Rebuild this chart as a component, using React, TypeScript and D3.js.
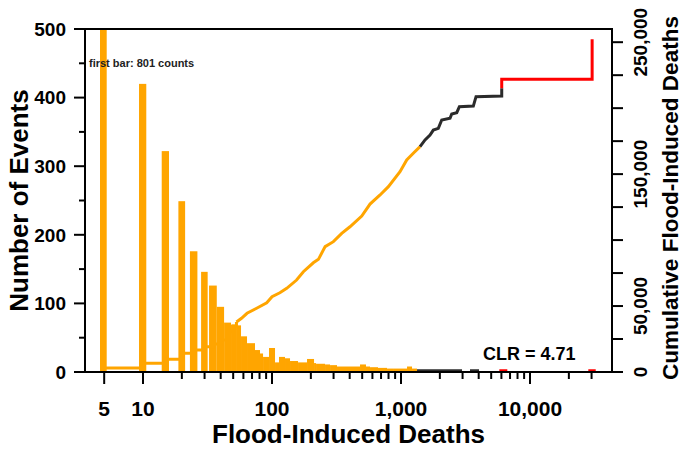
import React from "react";
import * as d3 from "d3";

// ---------- data ----------
// histogram bins (deaths per event) and number of events per bin
const barLo = [4.64, 9.31, 13.96, 18.8, 23.1, 28.2, 32.5, 37.3, 42.5, 48.1, 52.6, 57.5, 64.0, 73.8, 80.7, 85.2, 94.8, 105.5, 113.3, 126.1, 137.9, 159.1, 186.8, 211.7, 219.4, 257.6, 281.7, 319, 481, 535, 575, 663, 779, 867, 1113, 1217, 1331, 3426, 5781, 28300];
const barHi = [5.23, 10.6, 15.9, 21.2, 26.4, 31.7, 37.3, 42.5, 48.1, 52.6, 57.5, 64.0, 73.8, 80.7, 85.2, 94.8, 105.5, 113.3, 126.1, 137.9, 159.1, 186.8, 211.7, 219.4, 257.6, 281.7, 319, 481, 535, 575, 663, 779, 867, 1113, 1217, 1331, 2971, 4024, 6668, 32300];
const barCount = [801, 420, 322, 249, 176, 146, 126, 95, 72, 69, 68, 52, 42, 32, 27, 22, 35, 14, 22, 20, 16, 14, 19, 13, 12, 11, 10, 8, 11, 8, 7, 6, 5, 5, 8, 5, 4, 4, 4, 4];

// colour classes by deaths
const blackFrom = 1331;
const redFrom = 5000;

// cumulative flood-induced deaths (step part for small events)
const cumStepDeaths = [5, 10, 15, 20, 25, 30, 35, 40, 45, 50, 53];
const cumStepTotal = [3000, 6600, 9600, 14200, 16700, 19200, 21200, 24300, 30300, 34900, 37900];
// cumulative – orange part
const cumOrangeDeaths = [53, 58, 64, 76, 91, 100, 115, 130, 155, 175, 209, 229, 258, 299, 347, 402, 496, 575, 688, 798, 982, 1107, 1245, 1404];
const cumOrangeTotal = [37900, 40700, 44500, 48300, 52500, 57100, 60100, 63400, 69700, 76000, 82800, 85400, 95000, 98800, 105100, 110100, 118200, 127300, 134200, 140500, 151800, 160700, 165800, 170800];
// cumulative – black part
const cumBlackDeaths = [1404, 1535, 1678, 1780, 1946, 2068, 2398, 2472, 2704, 2834, 3635, 3815, 6035, 6035];
const cumBlackTotal = [170800, 175900, 179600, 183400, 184700, 191000, 192300, 195600, 196600, 201100, 201600, 208700, 209200, 215000];
// cumulative – red part
const cumRedDeaths = [6035, 6035, 30300, 30300];
const cumRedTotal = [215000, 221900, 221900, 252200];

// ticks
const xMajorTicks = [5, 10, 100, 1000, 10000];
const xMinorTicks = [20, 30, 40, 50, 60, 70, 80, 90, 200, 300, 400, 500, 600, 700, 800, 900, 2000, 3000, 4000, 5000, 6000, 7000, 8000, 9000, 20000, 30000];
const yLeftMajor = [0, 100, 200, 300, 400, 500];
const yLeftMinor = [50, 150, 250, 350, 450];
const yRightTicks = [0, 25000, 50000, 75000, 100000, 125000, 150000, 175000, 200000, 225000, 250000];
const yRightLabels = [0, 50000, 150000, 250000];

const clrText = "CLR = 4.71";
const noteText = "first bar: 801 counts";

// ---------- layout ----------
const W = 685;
const H = 450;
const L = 85, R = 612, T = 29, B = 372;
const ORANGE = "#FFA500";
const BLACK = "#2b2b2b";
const RED = "#FF0000";
const FONT = "'Liberation Sans', Arial, Helvetica, sans-serif";

export default function App() {
  const x = d3.scaleLog().domain([3.55, 43200]).range([L, R]);
  const yL = d3.scaleLinear().domain([0, 500]).range([B, T]);
  const yR = d3.scaleLinear().domain([0, 260000]).range([B, T]);
  const fmt = d3.format(",");

  const stepLine = d3.line<number>()
    .x((_, i) => x(cumStepDeaths[i]))
    .y((_, i) => yR(cumStepTotal[i]))
    .curve(d3.curveStepAfter);
  const mk = (xs: number[], ys: number[]) =>
    d3.line<number>().x((_, i) => x(xs[i])).y((_, i) => yR(ys[i]))(xs) || "";

  const barColor = (lo: number) => (lo >= redFrom ? RED : lo >= blackFrom ? BLACK : ORANGE);

  return (
    <svg width={W} height={H} style={{ position: "absolute", left: 0, top: 0, background: "#fff" }} fontFamily={FONT}>
      <rect x={0} y={0} width={W} height={H} fill="#fff" />
      {/* bars */}
      <g>
        {barCount.map((c, i) => (
          <rect
            key={i}
            x={x(barLo[i])}
            width={x(barHi[i]) - x(barLo[i])}
            y={yL(Math.min(c, 500))}
            height={B - yL(Math.min(c, 500))}
            fill={barColor(barLo[i])}
          />
        ))}
      </g>
      {/* cumulative curve */}
      <g fill="none" strokeWidth={3} strokeLinejoin="miter">
        <path d={stepLine(cumStepDeaths) || ""} stroke={ORANGE} />
        <path d={mk(cumOrangeDeaths, cumOrangeTotal)} stroke={ORANGE} />
        <path d={mk(cumBlackDeaths, cumBlackTotal)} stroke={BLACK} />
        <path d={mk(cumRedDeaths, cumRedTotal)} stroke={RED} />
      </g>
      {/* frame */}
      <rect x={L} y={T} width={R - L} height={B - T} fill="none" stroke="#000" strokeWidth={2} />
      {/* ticks */}
      <g stroke="#000" strokeWidth={2}>
        {xMajorTicks.map((t) => (
          <line key={"xM" + t} x1={x(t)} x2={x(t)} y1={B} y2={B + 12} />
        ))}
        {xMinorTicks.map((t) => (
          <line key={"xm" + t} x1={x(t)} x2={x(t)} y1={B} y2={B + 7} />
        ))}
        {yLeftMajor.map((t) => (
          <line key={"yM" + t} x1={L - 11} x2={L} y1={yL(t)} y2={yL(t)} />
        ))}
        {yLeftMinor.map((t) => (
          <line key={"ym" + t} x1={L - 6} x2={L} y1={yL(t)} y2={yL(t)} />
        ))}
        {yRightTicks.map((t) => (
          <line key={"yr" + t} x1={R} x2={R + 11} y1={yR(t)} y2={yR(t)} />
        ))}
      </g>
      {/* tick labels */}
      <g fontWeight="bold" fill="#000">
        {xMajorTicks.map((t) => (
          <text key={"xl" + t} x={x(t)} y={416} fontSize={21} textAnchor="middle">
            {fmt(t)}
          </text>
        ))}
        {yLeftMajor.map((t) => (
          <text key={"yl" + t} x={66} y={yL(t)} dy="0.36em" fontSize={19} textAnchor="end">
            {t}
          </text>
        ))}
        {yRightLabels.map((t) => (
          <text key={"yrl" + t} transform={`translate(647,${yR(t)}) rotate(-90)`} fontSize={19} textAnchor="middle">
            {fmt(t)}
          </text>
        ))}
      </g>
      {/* axis titles */}
      <g fontWeight="bold" fill="#000">
        <text x={(L + R) / 2} y={443} fontSize={26} textAnchor="middle">Flood-Induced Deaths</text>
        <text transform={`translate(28,${(T + B) / 2}) rotate(-90)`} fontSize={26} textAnchor="middle">Number of Events</text>
        <text transform={`translate(678,198) rotate(-90)`} fontSize={22.5} textAnchor="middle">Cumulative Flood-Induced Deaths</text>
      </g>
      {/* annotations */}
      <text x={89} y={67} fontSize={11} fontWeight="bold" fill="#222">{noteText}</text>
      <text x={483} y={360} fontSize={18} fontWeight="bold" fill="#000">{clrText}</text>
    </svg>
  );
}
